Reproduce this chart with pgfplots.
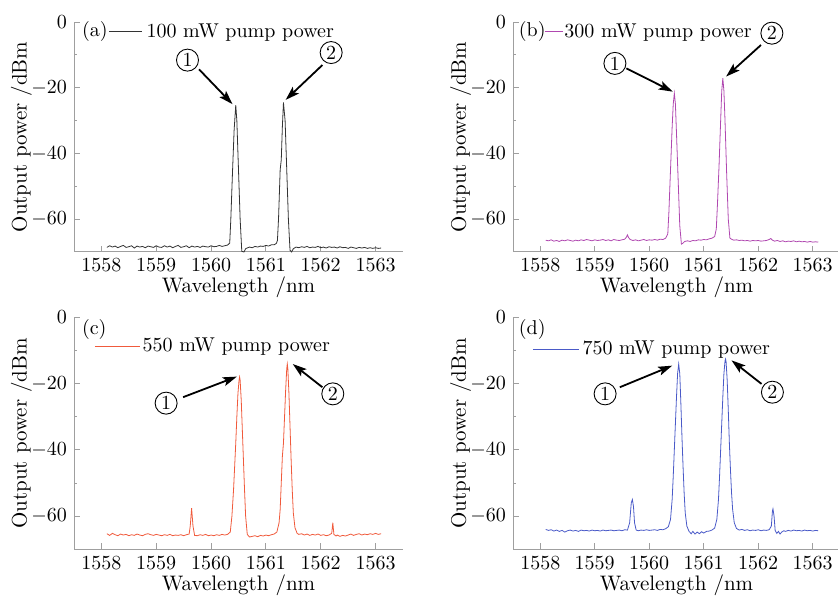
\documentclass[border=0pt]{standalone}
\usepackage{pgfplots}
\pgfplotsset{compat=1.18}
\usetikzlibrary{arrows.meta}
\definecolor{specA}{HTML}{333333}
\definecolor{specB}{HTML}{B048B0}
\definecolor{specC}{HTML}{F05A3C}
\definecolor{specD}{HTML}{4A5AC8}

\tikzset{
  num/.style={circle,draw,line width=0.45pt,minimum size=11pt,inner sep=0pt},
  arr/.style={-{Stealth[length=7pt,width=4.5pt,inset=1.5pt]},line width=0.9pt},
}
\pgfplotsset{
  panel/.style={
    scale only axis,
    axis lines*=left,
    axis line style={-,gray!75,line width=0.5pt},
    tick style={gray!75,line width=0.4pt},
    tick align=inside,
    major tick length=3pt,
    minor tick length=1.6pt,
    xmin=1557.5, xmax=1563.5,
    ymin=-70, ymax=0,
    xtick={1558,1559,...,1563},
    ytick={-60,-40,-20,0},
    minor x tick num=1,
    minor y tick num=1,
    tick label style={font=\normalsize},
    /pgf/number format/set thousands separator={},
    xlabel={Wavelength /nm},
    ylabel={Output power /dBm},
    label style={font=\fontsize{10.5}{12}\selectfont},
    xlabel style={at={(axis description cs:0.5,-0.155)},anchor=center},
    ylabel style={at={(axis description cs:-0.16,0.5)},anchor=center},
    clip=false,
    legend cell align=left,
    legend style={draw=none,fill=none,inner sep=0pt,anchor=west,
      nodes={inner xsep=2pt,inner ysep=0pt}},
  },
}

\begin{document}
\begin{tikzpicture}
\path[use as bounding box] (0,0) rectangle (419pt,298.5pt);

% (a) 100 mW
\begin{axis}[panel,at={(37pt,172.5pt)},anchor=south west,width=164.5pt,height=115pt,
  legend style={at={(axis cs:1558.2,-3)},xshift=-2pt},
  legend image code/.code={\draw[#1] (0pt,0pt) -- (16.5pt,0pt);}]
\addplot[specA,line width=0.4pt] coordinates {
(1558.10,-68.6) (1558.15,-68.1) (1558.20,-68.5) (1558.25,-68.2) (1558.30,-68.7)
(1558.35,-68.3) (1558.40,-68.0) (1558.45,-68.6) (1558.50,-68.4) (1558.55,-68.1)
(1558.60,-68.8) (1558.65,-68.2) (1558.70,-68.5) (1558.75,-68.3) (1558.80,-68.7)
(1558.85,-68.2) (1558.90,-68.4) (1558.95,-68.6) (1559.00,-68.1) (1559.05,-68.5)
(1559.10,-68.6) (1559.15,-68.1) (1559.20,-68.5) (1559.25,-68.2) (1559.30,-68.7)
(1559.35,-68.3) (1559.40,-68.0) (1559.45,-68.6) (1559.50,-68.4) (1559.55,-68.1)
(1559.60,-68.7) (1559.65,-68.2) (1559.70,-68.5) (1559.75,-68.3) (1559.80,-68.6)
(1559.85,-68.2) (1559.90,-68.4) (1559.95,-68.5) (1560.00,-68.1) (1560.05,-68.4)
(1560.10,-68.3) (1560.15,-68.0) (1560.20,-68.3) (1560.25,-68.1) (1560.30,-67.9)
(1560.34,-67.3) (1560.36,-60) (1560.39,-46) (1560.42,-33) (1560.45,-25.3)
(1560.47,-30) (1560.50,-45) (1560.53,-60) (1560.56,-69.8) (1560.60,-70)
(1560.63,-69.0) (1560.67,-68.7) (1560.70,-68.5) (1560.75,-68.7) (1560.80,-68.3)
(1560.85,-68.5) (1560.90,-68.2) (1560.95,-68.3) (1561.00,-68.0) (1561.05,-68.2)
(1561.10,-67.8) (1561.15,-67.8) (1561.19,-67.4) (1561.21,-66.5) (1561.23,-60)
(1561.25,-50) (1561.26,-45) (1561.28,-42) (1561.30,-32) (1561.32,-24.5)
(1561.35,-30) (1561.38,-45) (1561.41,-60) (1561.44,-69.5) (1561.47,-70)
(1561.50,-69.0) (1561.55,-68.5) (1561.60,-68.7) (1561.65,-68.4) (1561.70,-68.6)
(1561.75,-68.3) (1561.80,-68.7) (1561.85,-68.5) (1561.90,-68.6) (1561.95,-68.3)
(1562.00,-68.7) (1562.05,-68.5) (1562.10,-68.8) (1562.15,-68.4) (1562.20,-68.6)
(1562.25,-68.5) (1562.30,-68.8) (1562.35,-68.4) (1562.40,-68.7) (1562.45,-68.6)
(1562.50,-68.9) (1562.55,-68.5) (1562.60,-68.7) (1562.65,-68.9) (1562.70,-68.6)
(1562.75,-68.8) (1562.80,-68.6) (1562.85,-68.9) (1562.90,-68.7) (1562.95,-68.9)
(1563.00,-68.7) (1563.05,-68.9) (1563.10,-68.8)
};
\addlegendentry{100 mW pump power}
\node[anchor=west,inner sep=0pt] at (axis cs:1557.64,-2.95) {(a)};
\node[num] at (axis cs:1559.57,-11.6) {1};
\node[num] at (axis cs:1562.19,-9.3) {2};
\draw[arr] (axis cs:1559.78,-14.4) -- (axis cs:1560.39,-25.0);
\draw[arr] (axis cs:1562.03,-13.1) -- (axis cs:1561.36,-23.7);
\end{axis}

% (b) 300 mW
\begin{axis}[panel,at={(256.5pt,172.5pt)},anchor=south west,width=163.5pt,height=115pt,
  legend style={at={(axis cs:1558.09,-2.95)},xshift=-0.5pt,nodes={inner xsep=0.5pt}},
  legend image code/.code={\draw[#1] (0pt,0pt) -- (9pt,0pt);}]
\addplot[specB,line width=0.4pt] coordinates {
(1558.10,-66.4) (1558.15,-66.6) (1558.20,-66.3) (1558.25,-66.7) (1558.30,-66.5)
(1558.35,-66.8) (1558.40,-66.4) (1558.45,-66.6) (1558.50,-66.3) (1558.55,-66.5)
(1558.60,-66.7) (1558.65,-66.4) (1558.70,-66.6) (1558.75,-66.3) (1558.80,-66.5)
(1558.85,-66.2) (1558.90,-66.4) (1558.95,-66.6) (1559.00,-66.3) (1559.05,-66.5)
(1559.10,-66.4) (1559.15,-66.2) (1559.20,-66.5) (1559.25,-66.3) (1559.30,-66.6)
(1559.35,-66.2) (1559.40,-66.4) (1559.45,-66.5) (1559.50,-66.3) (1559.55,-66.1)
(1559.58,-65.5) (1559.60,-64.8) (1559.62,-65.6) (1559.65,-66.2) (1559.70,-66.5)
(1559.75,-66.3) (1559.80,-66.6) (1559.85,-66.4) (1559.90,-66.2) (1559.95,-66.5)
(1560.00,-66.3) (1560.05,-66.4) (1560.10,-66.2) (1560.15,-66.4) (1560.20,-66.1)
(1560.25,-66.2) (1560.30,-65.8) (1560.34,-64.5) (1560.36,-58) (1560.39,-45)
(1560.42,-32) (1560.44,-25) (1560.46,-21.7) (1560.48,-25) (1560.50,-34)
(1560.53,-48) (1560.56,-62) (1560.59,-67.6) (1560.62,-67.3) (1560.65,-66.8)
(1560.70,-66.6) (1560.75,-66.8) (1560.80,-66.5) (1560.85,-66.6) (1560.90,-66.3)
(1560.95,-66.4) (1561.00,-66.2) (1561.05,-66.3) (1561.10,-66.0) (1561.15,-65.8)
(1561.20,-65.3) (1561.23,-63) (1561.25,-56) (1561.28,-44) (1561.31,-30)
(1561.33,-21) (1561.35,-17.1) (1561.37,-21) (1561.39,-30) (1561.42,-46)
(1561.45,-60) (1561.48,-65.8) (1561.52,-66.2) (1561.55,-66.4) (1561.60,-66.3)
(1561.65,-66.5) (1561.70,-66.4) (1561.75,-66.6) (1561.80,-66.5) (1561.85,-66.7)
(1561.90,-66.5) (1561.95,-66.6) (1562.00,-66.5) (1562.05,-66.7) (1562.10,-66.6)
(1562.15,-66.5) (1562.20,-66.2) (1562.23,-65.9) (1562.26,-66.4) (1562.30,-66.7)
(1562.35,-66.5) (1562.40,-66.8) (1562.45,-66.6) (1562.50,-66.9) (1562.55,-66.7)
(1562.60,-66.8) (1562.65,-66.6) (1562.70,-66.9) (1562.75,-66.7) (1562.80,-66.9)
(1562.85,-66.8) (1562.90,-67.0) (1562.95,-66.8) (1563.00,-67.0) (1563.05,-66.9)
(1563.10,-67.0)
};
\addlegendentry{300 mW pump power}
\node[anchor=west,inner sep=0pt] at (axis cs:1557.6,-2.95) {(b)};
\node[num] at (axis cs:1559.37,-12.6) {1};
\node[num] at (axis cs:1562.25,-3.4) {2};
\draw[arr] (axis cs:1559.58,-14.1) -- (axis cs:1560.43,-21.2);
\draw[arr] (axis cs:1562.05,-7.0) -- (axis cs:1561.41,-16.6);
\end{axis}

% (c) 550 mW
\begin{axis}[panel,at={(37pt,23.85pt)},anchor=south west,width=164.5pt,height=116pt,
  legend style={at={(axis cs:1557.91,-8.75)},xshift=-1.2pt,nodes={inner xsep=1.2pt}},
  legend image code/.code={\draw[#1] (0pt,0pt) -- (22.5pt,0pt);}]
\addplot[specC,line width=0.4pt] coordinates {
(1558.10,-65.3) (1558.15,-65.8) (1558.20,-65.2) (1558.25,-65.6) (1558.30,-65.9)
(1558.35,-65.4) (1558.40,-65.7) (1558.45,-65.5) (1558.50,-65.9) (1558.55,-65.6)
(1558.60,-65.8) (1558.65,-65.4) (1558.70,-65.7) (1558.75,-65.9) (1558.80,-65.5)
(1558.85,-65.3) (1558.90,-65.6) (1558.95,-65.8) (1559.00,-65.5) (1559.05,-65.7)
(1559.10,-65.9) (1559.15,-65.6) (1559.20,-65.8) (1559.25,-65.5) (1559.30,-65.9)
(1559.35,-65.7) (1559.40,-65.8) (1559.45,-65.6) (1559.50,-65.9) (1559.55,-65.6)
(1559.60,-65.4) (1559.62,-63) (1559.645,-57.6) (1559.67,-63) (1559.70,-65.8)
(1559.75,-65.9) (1559.80,-65.6) (1559.85,-65.8) (1559.90,-65.5) (1559.95,-65.9)
(1560.00,-65.7) (1560.05,-65.9) (1560.10,-65.6) (1560.15,-65.8) (1560.20,-65.5)
(1560.25,-65.7) (1560.30,-65.5) (1560.35,-64.8) (1560.38,-60) (1560.41,-52)
(1560.43,-45) (1560.45,-38) (1560.47,-30) (1560.49,-23) (1560.51,-19)
(1560.52,-18) (1560.53,-19) (1560.55,-25) (1560.57,-34) (1560.59,-43)
(1560.61,-52) (1560.63,-60) (1560.66,-65.5) (1560.70,-66.3) (1560.75,-66.1)
(1560.80,-65.9) (1560.85,-66.2) (1560.90,-65.8) (1560.95,-66.0) (1561.00,-65.7)
(1561.05,-65.9) (1561.10,-65.6) (1561.15,-65.4) (1561.20,-64.8) (1561.24,-62)
(1561.26,-58) (1561.28,-50) (1561.30,-42) (1561.32,-38) (1561.34,-30)
(1561.36,-22) (1561.38,-15.5) (1561.39,-14.1) (1561.40,-15.5) (1561.42,-23)
(1561.44,-33) (1561.46,-43) (1561.48,-52) (1561.50,-59) (1561.53,-63.5)
(1561.57,-65.2) (1561.60,-65.5) (1561.65,-65.3) (1561.70,-65.7) (1561.75,-65.4)
(1561.80,-65.8) (1561.85,-65.5) (1561.90,-65.7) (1561.95,-65.4) (1562.00,-65.8)
(1562.05,-65.6) (1562.10,-65.9) (1562.15,-65.7) (1562.20,-65.2) (1562.22,-62)
(1562.24,-65.5) (1562.28,-66.0) (1562.30,-65.7) (1562.35,-66.1) (1562.40,-65.8)
(1562.45,-66.0) (1562.50,-65.7) (1562.55,-65.4) (1562.60,-65.8) (1562.65,-65.5)
(1562.70,-65.3) (1562.75,-65.7) (1562.80,-65.4) (1562.85,-65.6) (1562.90,-65.3)
(1562.95,-65.5) (1563.00,-65.2) (1563.05,-65.5) (1563.10,-65.3)
};
\addlegendentry{550 mW pump power}
\node[anchor=west,inner sep=0pt] at (axis cs:1557.64,-3.6) {(c)};
\node[num] at (axis cs:1559.18,-25.9) {1};
\node[num] at (axis cs:1562.22,-23.1) {2};
\draw[arr] (axis cs:1559.49,-24.1) -- (axis cs:1560.47,-17.9);
\draw[arr] (axis cs:1562.03,-21.1) -- (axis cs:1561.49,-14.1);
\end{axis}

% (d) 750 mW
\begin{axis}[panel,at={(256.5pt,23.85pt)},anchor=south west,width=163.5pt,height=116pt,
  legend style={at={(axis cs:1557.91,-9.6)},xshift=-1.7pt,nodes={inner xsep=1.7pt}},
  legend image code/.code={\draw[#1] (0pt,0pt) -- (23pt,0pt);}]
\addplot[specD,line width=0.4pt] coordinates {
(1558.10,-64.0) (1558.15,-64.3) (1558.20,-64.1) (1558.25,-64.5) (1558.30,-64.2)
(1558.35,-64.6) (1558.40,-64.3) (1558.45,-64.8) (1558.50,-64.4) (1558.55,-64.2)
(1558.60,-64.5) (1558.65,-64.3) (1558.70,-64.6) (1558.75,-64.2) (1558.80,-64.4)
(1558.85,-64.3) (1558.90,-64.5) (1558.95,-64.2) (1559.00,-64.4) (1559.05,-64.3)
(1559.10,-64.5) (1559.15,-64.2) (1559.20,-64.4) (1559.25,-64.3) (1559.30,-64.2)
(1559.35,-64.4) (1559.40,-64.3) (1559.45,-64.2) (1559.50,-64.4) (1559.55,-64.1)
(1559.60,-64.2) (1559.64,-62) (1559.67,-56) (1559.69,-55) (1559.71,-57)
(1559.73,-62) (1559.76,-64.2) (1559.80,-64.4) (1559.85,-64.2) (1559.90,-64.3)
(1559.95,-64.1) (1560.00,-64.3) (1560.05,-64.2) (1560.10,-64.1) (1560.15,-64.3)
(1560.20,-64.0) (1560.25,-64.1) (1560.30,-63.8) (1560.35,-63.2) (1560.39,-61)
(1560.42,-55) (1560.44,-48) (1560.46,-40) (1560.48,-32) (1560.50,-24)
(1560.52,-17) (1560.54,-14.1) (1560.56,-17) (1560.58,-26) (1560.60,-36)
(1560.62,-45) (1560.64,-53) (1560.66,-59) (1560.69,-63) (1560.73,-64.6)
(1560.77,-65.3) (1560.80,-64.6) (1560.84,-65.4) (1560.88,-64.8) (1560.92,-65.3)
(1560.96,-64.7) (1561.00,-65.1) (1561.05,-64.6) (1561.10,-64.5) (1561.15,-64.2)
(1561.20,-63.6) (1561.24,-61) (1561.27,-55) (1561.29,-48) (1561.31,-40)
(1561.33,-32) (1561.35,-24) (1561.37,-17) (1561.39,-13.2) (1561.40,-12.6)
(1561.41,-13.5) (1561.43,-19) (1561.45,-28) (1561.47,-38) (1561.49,-46)
(1561.51,-53) (1561.53,-58) (1561.56,-62) (1561.60,-63.7) (1561.65,-64.2)
(1561.70,-64.0) (1561.75,-64.3) (1561.80,-64.1) (1561.85,-64.4) (1561.90,-64.2)
(1561.95,-64.3) (1562.00,-64.1) (1562.05,-64.4) (1562.10,-64.2) (1562.15,-64.3)
(1562.20,-64.1) (1562.24,-63) (1562.26,-58.5) (1562.27,-57.8) (1562.29,-60)
(1562.31,-64.3) (1562.34,-65.2) (1562.37,-64.6) (1562.40,-65.4) (1562.43,-64.8)
(1562.47,-64.4) (1562.50,-64.6) (1562.55,-64.3) (1562.60,-64.5) (1562.65,-64.2)
(1562.70,-64.4) (1562.75,-64.3) (1562.80,-64.5) (1562.85,-64.2) (1562.90,-64.4)
(1562.95,-64.3) (1563.00,-64.5) (1563.05,-64.3) (1563.10,-64.4)
};
\addlegendentry{750 mW pump power}
\node[anchor=west,inner sep=0pt] at (axis cs:1557.6,-3.6) {(d)};
\node[num] at (axis cs:1559.19,-23.1) {1};
\node[num] at (axis cs:1562.26,-22.6) {2};
\draw[arr] (axis cs:1559.46,-21.1) -- (axis cs:1560.42,-14.6);
\draw[arr] (axis cs:1562.06,-20.1) -- (axis cs:1561.51,-13.0);
\end{axis}
\end{tikzpicture}
\end{document}
